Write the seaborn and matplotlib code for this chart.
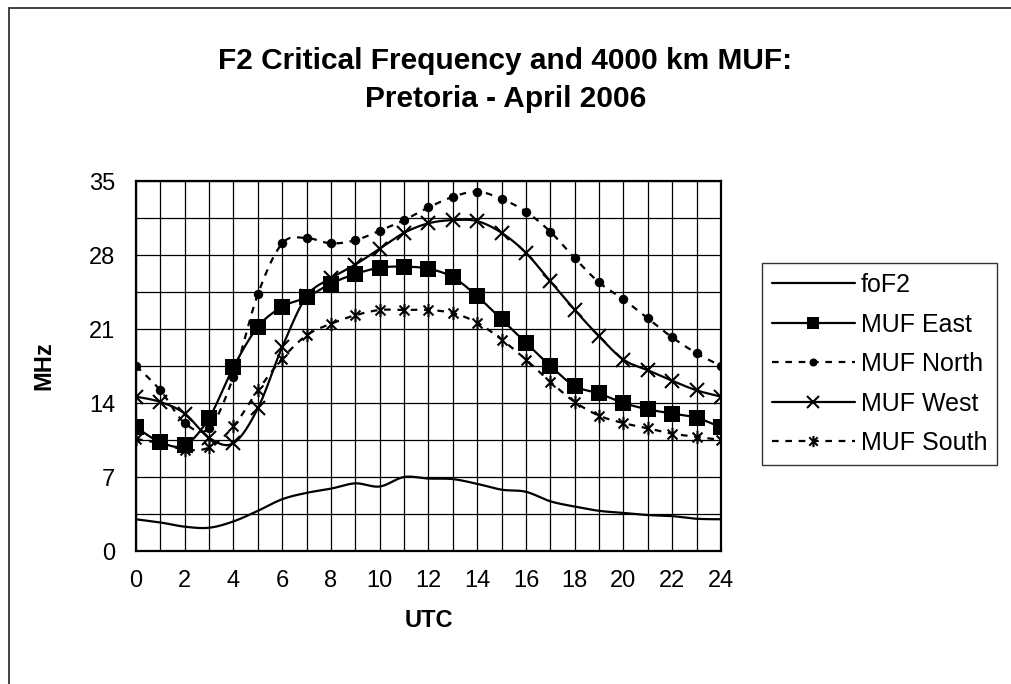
import numpy as np
import pandas as pd
import matplotlib
matplotlib.use("Agg")
import matplotlib.pyplot as plt
from matplotlib.lines import Line2D
from matplotlib.path import Path
from matplotlib.patches import Rectangle
import seaborn as sns

hours = list(range(25))
fof2 = [3.0, 2.7, 2.3, 2.2, 2.8, 3.8, 4.9, 5.5, 5.9, 6.4, 6.1, 7.0, 6.85, 6.8, 6.35,
        5.8, 5.6, 4.7, 4.2, 3.8, 3.6, 3.4, 3.3, 3.05, 3.0]
muf_east = [11.7, 10.3, 10.0, 12.6, 17.4, 21.2, 23.1, 24.0, 25.3, 26.2, 26.8, 26.9, 26.7,
            25.9, 24.1, 21.9, 19.7, 17.5, 15.6, 14.9, 14.0, 13.4, 13.0, 12.6, 11.7]
muf_north = [17.5, 15.2, 12.1, 11.6, 16.5, 24.3, 29.1, 29.6, 29.1, 29.4, 30.3, 31.3, 32.5,
             33.5, 34.0, 33.3, 32.1, 30.2, 27.7, 25.4, 23.8, 22.0, 20.2, 18.7, 17.5]
muf_west = [14.6, 14.1, 13.0, 10.7, 10.2, 13.5, 19.3, 24.1, 25.8, 27.1, 28.6, 30.1, 31.0,
            31.3, 31.2, 30.1, 28.2, 25.5, 22.8, 20.3, 18.1, 17.1, 16.1, 15.2, 14.6]
muf_south = [10.6, 10.2, 9.6, 9.8, 11.8, 15.2, 18.2, 20.4, 21.5, 22.3, 22.8, 22.8, 22.8,
             22.5, 21.6, 20.0, 18.1, 16.0, 14.1, 12.8, 12.1, 11.6, 11.1, 10.8, 10.5]
series_names = ["foF2", "MUF East", "MUF North", "MUF West", "MUF South"]
x_ticks = list(range(0, 25, 2))
y_ticks = [0, 7, 14, 21, 28, 35]

sns.set_theme(style="white")
plt.rcParams["font.family"] = ["Liberation Sans", "DejaVu Sans"]
plt.rcParams["text.color"] = "black"
plt.rcParams["axes.labelcolor"] = "black"
plt.rcParams["xtick.color"] = "black"
plt.rcParams["ytick.color"] = "black"

# asterisk (Excel "star") marker: X plus vertical bar
star = Path([(0, -1), (0, 1), (-0.75, -0.75), (0.75, 0.75), (-0.75, 0.75), (0.75, -0.75)],
            [Path.MOVETO, Path.LINETO, Path.MOVETO, Path.LINETO, Path.MOVETO, Path.LINETO])


def smooth(xs, ys, n=16):
    """Excel-like smoothed line (cardinal Bezier) through the data points."""
    xs = np.asarray(xs, float)
    ys = np.asarray(ys, float)
    px = np.concatenate([[xs[0]], xs, [xs[-1]]])
    py = np.concatenate([[ys[0]], ys, [ys[-1]]])
    ox, oy = [], []
    t = np.linspace(0, 1, n, endpoint=False)
    for i in range(1, len(px) - 2):
        p0 = np.array([px[i], py[i]])
        p3 = np.array([px[i + 1], py[i + 1]])
        c1 = p0 + (np.array([px[i + 1], py[i + 1]]) - np.array([px[i - 1], py[i - 1]])) / 6
        c2 = p3 - (np.array([px[i + 2], py[i + 2]]) - np.array([px[i], py[i]])) / 6
        b = ((1 - t) ** 3)[:, None] * p0 + (3 * (1 - t) ** 2 * t)[:, None] * c1 \
            + (3 * (1 - t) * t ** 2)[:, None] * c2 + (t ** 3)[:, None] * p3
        ox.extend(b[:, 0]); oy.extend(b[:, 1])
    ox.append(xs[-1]); oy.append(ys[-1])
    return np.array(ox), np.array(oy)


fig = plt.figure(figsize=(10.11, 6.84), dpi=100)
fig.patch.set_facecolor("white")
ax = fig.add_axes([136 / 1011, 1 - 551 / 684, (721 - 136) / 1011, (551 - 181) / 684])
ax.set_facecolor("white")

styles = {
    "foF2": dict(ls="-", marker=None, ms=0, mew=0),
    "MUF East": dict(ls="-", marker="s", ms=11, mew=0),
    "MUF North": dict(ls=(0, (3, 3)), marker="o", ms=6.8, mew=0),
    "MUF West": dict(ls="-", marker="x", ms=10.5, mew=1.5),
    "MUF South": dict(ls=(0, (3, 3)), marker=star, ms=9.5, mew=1.5),
}
data = [fof2, muf_east, muf_north, muf_west, muf_south]

handles = []
for name, vals in zip(series_names, data):
    st = styles[name]
    sx, sy = smooth(hours, vals)
    df = pd.DataFrame({"UTC": sx, "MHz": sy})
    sns.lineplot(data=df, x="UTC", y="MHz", ax=ax, color="black", lw=1.6,
                 linestyle=st["ls"], sort=False, estimator=None, zorder=3)
    if st["marker"] is not None:
        ax.plot(hours, vals, ls="none", marker=st["marker"], ms=st["ms"],
                mfc="black", mec="black", mew=st["mew"], color="black", zorder=4)
    handles.append(Line2D([0], [0], color="black", lw=1.6, ls=st["ls"],
                          marker=st["marker"], ms=st["ms"] * 0.85 if st["marker"] else 0,
                          mfc="black", mec="black", mew=st["mew"]))

ax.set_xlim(0, 24)
ax.set_ylim(0, 35)
ax.set_xticks(x_ticks)
ax.set_xticks(range(25), minor=True)
ax.set_yticks(y_ticks)
ax.set_yticks(np.arange(0, 35.1, 3.5), minor=True)
ax.grid(True, which="both", color="black", lw=0.9, zorder=0)
ax.set_axisbelow(True)
ax.tick_params(axis="both", which="major", direction="out", length=6, width=1.2,
               color="black", labelsize=17, labelcolor="black")
ax.tick_params(axis="x", which="major", pad=8)
ax.tick_params(axis="y", which="major", pad=9)
ax.tick_params(which="minor", length=0)
for sp in ax.spines.values():
    sp.set_visible(True)
    sp.set_color("black")
    sp.set_linewidth(1.6)

ax.set_xlabel("UTC", fontsize=17, fontweight="bold", labelpad=12)
ax.set_ylabel("MHz", fontsize=17, fontweight="bold", labelpad=24)

fig.text(0.5, 1 - 80 / 684, "F2 Critical Frequency and 4000 km MUF:\nPretoria - April 2006",
         ha="center", va="center", fontsize=21.5, fontweight="bold", linespacing=1.45)

leg = fig.legend(handles, series_names, loc="upper left",
                 bbox_to_anchor=(762 / 1011, 1 - 263 / 684), bbox_transform=fig.transFigure,
                 borderaxespad=0, frameon=True, fancybox=False, shadow=False,
                 fontsize=18, handlelength=3.3, handletextpad=0.25, labelspacing=0.62,
                 borderpad=0.4)
leg.get_frame().set_edgecolor("black")
leg.get_frame().set_linewidth(1.0)
for t in leg.get_texts():
    t.set_color("black")

# outer chart frame (only left/top visible in the reference crop)
fig.patches.append(Rectangle((9 / 1011, -0.1), 1.2, 1 - 8 / 684 + 0.1, transform=fig.transFigure,
                             fill=False, edgecolor="#333333", lw=1.3))

fig.savefig("out.png", dpi=100, facecolor="white")
